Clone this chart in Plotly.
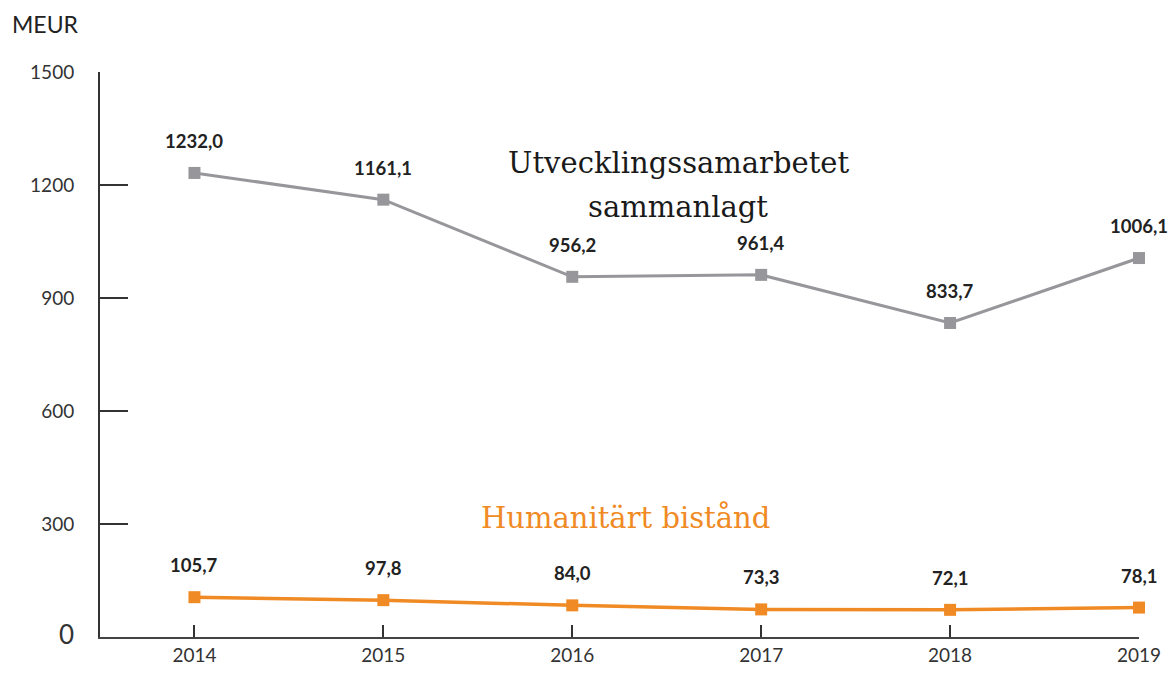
import plotly.graph_objects as go

years = [2014, 2015, 2016, 2017, 2018, 2019]
total = [1232.0, 1161.1, 956.2, 961.4, 833.7, 1006.1]
humanitarian = [105.7, 97.8, 84.0, 73.3, 72.1, 78.1]
y_ticks = [0, 300, 600, 900, 1200, 1500]

def fmt(v):
    return f"{v:.1f}".replace(".", ",")

gray = "#97979b"
orange = "#f08a24"
lato = "Lato, sans-serif"
slab = "DejaVu Serif, serif"

fig = go.Figure()
fig.add_trace(go.Scatter(
    x=years, y=total, mode="lines+markers",
    line=dict(color=gray, width=3),
    marker=dict(symbol="square", size=12, color=gray),
    cliponaxis=False, showlegend=False,
))
fig.add_trace(go.Scatter(
    x=years, y=humanitarian, mode="lines+markers",
    line=dict(color=orange, width=3.5),
    marker=dict(symbol="square", size=12, color=orange),
    cliponaxis=False, showlegend=False,
))

for xs, ys in ((years, total), (years, humanitarian)):
    for x, y in zip(xs, ys):
        fig.add_annotation(x=x, y=y, text=f"<b>{fmt(y)}</b>", showarrow=False,
                           yshift=32, font=dict(family=lato, size=18.5, color="#222"))

fig.add_annotation(x=2016.56, y=1258, text="Utvecklingssamarbetet",
                   showarrow=False, font=dict(family=slab, size=29, color="#1a1a1a"))
fig.add_annotation(x=2016.56, y=1142, text="sammanlagt",
                   showarrow=False, font=dict(family=slab, size=29, color="#1a1a1a"))
fig.add_annotation(x=2016.28, y=316, text="Humanitärt bistånd",
                   showarrow=False, font=dict(family=slab, size=29, color=orange))
fig.add_annotation(xref="paper", yref="paper", x=-0.087, y=1.0, yshift=64,
                   text="MEUR", showarrow=False, xanchor="left",
                   font=dict(family=lato, size=23, color="#222"))

ticktext = [('<span style="font-size:26px">0</span>' if t == 0 else str(t)) for t in y_ticks]

fig.update_layout(
    width=1173, height=678,
    margin=dict(l=100, r=24, t=72, b=41),
    plot_bgcolor="white", paper_bgcolor="white",
    font=dict(family=lato, color="#333"),
    xaxis=dict(range=[2013.5, 2019], tickvals=years, ticktext=[str(y) for y in years],
               showgrid=False, zeroline=False, showline=True, linecolor="#444", linewidth=2,
               ticks="inside", ticklen=12, tickwidth=2, tickcolor="#333",
               tickfont=dict(family=lato, size=19, color="#333")),
    yaxis=dict(range=[0, 1500], tickvals=y_ticks, ticktext=ticktext,
               showgrid=False, zeroline=False, showline=True, linecolor="#333", linewidth=2,
               ticks="inside", ticklen=28, tickwidth=2, tickcolor="#333",
               tickfont=dict(family=lato, size=19, color="#333"), ticklabelstandoff=20),
)

fig.write_html("out.html", config={"displayModeBar": False},
               post_script="document.body.style.margin='0';document.body.style.overflow='hidden';")
